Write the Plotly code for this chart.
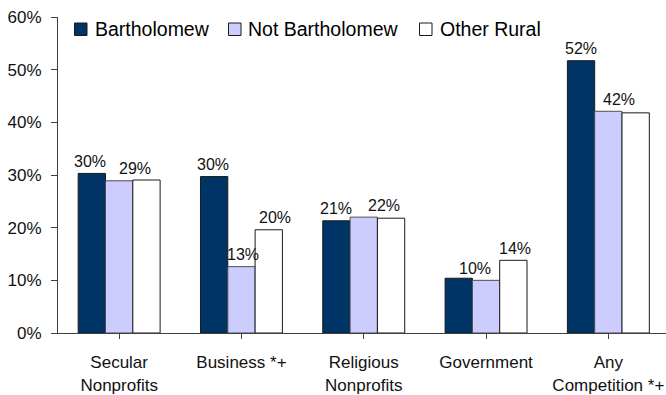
import plotly.graph_objects as go

# Share of respondents facing each type of competitor
categories = ["Secular<br>Nonprofits", "Business *+", "Religious<br>Nonprofits",
              "Government", "Any<br>Competition *+"]
bartholomew = [30.3, 29.7, 21.3, 10.4, 51.7]
not_bartholomew = [28.9, 12.6, 22.0, 10.0, 42.1]
other_rural = [29.05, 19.6, 21.8, 13.8, 41.8]

series_names = ["Bartholomew", "Not Bartholomew", "Other Rural"]
series_values = [bartholomew, not_bartholomew, other_rural]
fills = ["#003366", "#ccccff", "#ffffff"]
outlines = ["#1a1a1a", "#4d4d4d", "#1a1a1a"]

# Value labels: (category index, series index, horizontal nudge in px)
value_labels = [(0, 0, -2), (0, 1, 16),
                (1, 0, -1), (1, 1, 2), (1, 2, 6),
                (2, 0, 0), (2, 1, 20),
                (3, 1, -11), (3, 2, 2),
                (4, 0, 0), (4, 1, 11)]

FONT = "Liberation Sans, Arial, sans-serif"
AXIS = "#404040"

W, H = 666, 395
ML, MR, MT, MB = 58, 0, 17, 62
x_hi = -0.5 + (W - ML - MR) / 122.3
bargap = 0.33
bar_w = (1 - bargap) / 3

fig = go.Figure()
idx = list(range(len(categories)))
for name, vals, fc, lc in zip(series_names, series_values, fills, outlines):
    fig.add_trace(go.Bar(
        x=idx, y=vals, name=name, showlegend=False,
        marker=dict(color=fc, line=dict(color=lc, width=1)),
    ))

annotations = []
for ci, si, dx in value_labels:
    v = series_values[si][ci]
    annotations.append(dict(
        x=ci + (si - 1) * bar_w, y=v, xref="x", yref="y",
        text=f"{round(v)}%", showarrow=False,
        xanchor="center", yanchor="middle", xshift=dx, yshift=12,
        font=dict(family=FONT, size=16, color="#111"),
    ))

# Legend drawn as boxes and labels across the top of the plot
pw, ph = W - ML - MR, H - MT - MB
def px_x(p):
    return (p - ML) / pw
def px_y(p):
    return (H - MB - p) / ph

legend_boxes = [74.5, 228.5, 419.5]
legend_text_x = [92.5, 246, 437.5]
shapes = []
for name, bx, tx, fc, lc in zip(series_names, legend_boxes, legend_text_x, fills, outlines):
    shapes.append(dict(
        type="rect", xref="paper", yref="paper",
        x0=px_x(bx), x1=px_x(bx + 12.5), y0=px_y(35.5), y1=px_y(23),
        fillcolor=fc, line=dict(color="#1a1a1a", width=1),
    ))
    annotations.append(dict(
        x=px_x(tx), y=px_y(29), xref="paper", yref="paper",
        text=name, showarrow=False, xanchor="left", yanchor="middle",
        font=dict(family=FONT, size=19.5, color="#000"),
    ))

fig.update_layout(
    width=W, height=H,
    margin=dict(l=ML, r=MR, t=MT, b=MB),
    paper_bgcolor="white", plot_bgcolor="white",
    barmode="group", bargap=bargap, bargroupgap=0,
    font=dict(family=FONT, color="#111"),
    annotations=annotations, shapes=shapes,
    xaxis=dict(
        tickmode="array", tickvals=idx, ticktext=categories,
        range=[-0.5, x_hi], showgrid=False, zeroline=False,
        showline=True, linecolor=AXIS, linewidth=1,
        ticks="outside", tickson="boundaries", ticklen=5, tickcolor=AXIS,
        ticklabelstandoff=9,
        tickfont=dict(family=FONT, size=17, color="#111"),
    ),
    yaxis=dict(
        range=[0, 60], dtick=10, ticksuffix="%", showgrid=False, zeroline=False,
        showline=True, linecolor=AXIS, linewidth=1,
        ticks="outside", ticklen=6, tickcolor=AXIS, ticklabelstandoff=6,
        tickfont=dict(family=FONT, size=17, color="#111"),
    ),
)

fig.write_html("out.html")
